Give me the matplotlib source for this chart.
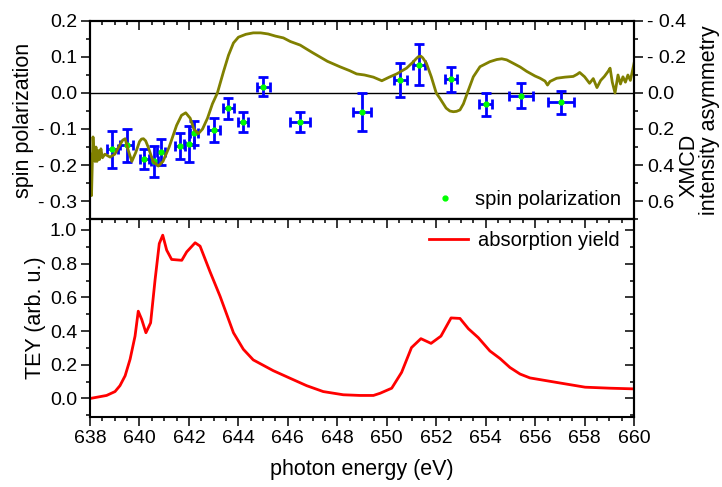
import matplotlib
matplotlib.use('Agg')
import matplotlib.pyplot as plt
from matplotlib.ticker import MultipleLocator, FuncFormatter

plt.rcParams['font.family'] = ['Liberation Sans', 'DejaVu Sans']

# spin polarization points (photon energy, value, errors)
sp_e = [638.90, 639.48, 640.20, 640.60, 640.86, 641.64, 642.00, 642.21, 643.01, 643.59,
        644.17, 645.01, 646.49, 649.00, 650.54, 651.30, 652.60, 654.00, 655.43, 657.03]
sp_val = [-0.156, -0.145, -0.184, -0.190, -0.164, -0.147, -0.142, -0.111, -0.103, -0.043,
          -0.081, 0.018, -0.080, -0.052, 0.036, 0.079, 0.038, -0.031, -0.007, -0.026]
sp_yerr = [0.051, 0.046, 0.028, 0.044, 0.036, 0.035, 0.051, 0.033, 0.034, 0.028,
           0.028, 0.027, 0.027, 0.053, 0.047, 0.057, 0.034, 0.032, 0.035, 0.031]
sp_xerr = [0.22, 0.25, 0.18, 0.15, 0.17, 0.20, 0.20, 0.15, 0.24, 0.22,
           0.20, 0.26, 0.42, 0.38, 0.26, 0.23, 0.26, 0.27, 0.48, 0.53]

# XMCD intensity asymmetry (right axis)
xmcd_e = [638.00, 638.03, 638.06, 638.09, 638.12, 638.16, 638.20, 638.24, 638.28, 638.33,
          638.38, 638.44, 638.50, 638.60, 638.81, 639.00, 639.20, 639.32, 639.42, 639.55,
          639.69, 639.85, 640.00, 640.08, 640.16, 640.25, 640.35, 640.55, 640.76, 640.95,
          641.20, 641.50, 641.70, 641.87, 642.05, 642.20, 642.38, 642.55, 642.75, 642.95,
          643.15, 643.40, 643.60, 643.80, 644.00, 644.30, 644.60, 644.90, 645.20, 645.50,
          645.82, 646.10, 646.50, 646.76, 647.00, 647.30, 647.60, 648.10, 648.50, 648.78,
          649.10, 649.46, 649.80, 650.10, 650.40, 650.80, 651.05, 651.20, 651.28, 651.38,
          651.45, 651.60, 651.80, 652.00, 652.15, 652.40, 652.55, 652.69, 652.82, 652.96,
          653.10, 653.30, 653.50, 653.77, 654.17, 654.45, 654.65, 654.85, 655.10, 655.40,
          655.66, 656.00, 656.20, 656.40, 656.50, 656.60, 656.87, 657.20, 657.54, 657.70,
          657.80, 658.00, 658.20, 658.35, 658.50, 658.65, 658.80, 658.95, 659.03, 659.12,
          659.23, 659.35, 659.45, 659.55, 659.65, 659.75, 659.85, 659.93, 660.00]
xmcd = [0.34, 0.46, 0.57, 0.40, 0.244, 0.34, 0.38, 0.30, 0.38, 0.32,
        0.37, 0.31, 0.36, 0.34, 0.356, 0.34, 0.29, 0.262, 0.254, 0.32,
        0.38, 0.33, 0.27, 0.256, 0.254, 0.266, 0.30, 0.38, 0.406, 0.38,
        0.30, 0.18, 0.124, 0.11, 0.14, 0.20, 0.226, 0.20, 0.14, 0.06,
        0.0, -0.12, -0.21, -0.278, -0.31, -0.326, -0.334, -0.334, -0.328, -0.316,
        -0.306, -0.286, -0.266, -0.244, -0.224, -0.20, -0.176, -0.146, -0.124, -0.106,
        -0.10, -0.088, -0.068, -0.088, -0.106, -0.138, -0.17, -0.192, -0.202, -0.204,
        -0.196, -0.166, -0.09, 0.0, 0.03, 0.084, 0.100, 0.104, 0.102, 0.094,
        0.06, -0.016, -0.09, -0.146, -0.174, -0.186, -0.19, -0.184, -0.166, -0.144,
        -0.12, -0.094, -0.082, -0.066, -0.044, -0.064, -0.082, -0.088, -0.092, -0.104,
        -0.114, -0.09, -0.054, -0.08, -0.03, -0.07, -0.092, -0.12, -0.138, -0.06,
        0.0, -0.1, -0.05, -0.09, -0.06, -0.1, -0.07, -0.12, -0.166]

# absorption yield (TEY)
tey_e = [638.00, 638.67, 639.01, 639.21, 639.42, 639.62, 639.82, 639.95, 640.09, 640.26,
         640.45, 640.63, 640.80, 640.94, 641.10, 641.30, 641.71, 641.91, 642.25, 642.45,
         642.85, 643.26, 643.80, 644.20, 644.60, 645.41, 646.09, 646.76, 647.43, 648.24,
         648.92, 649.46, 649.73, 650.20, 650.60, 651.00, 651.38, 651.79, 652.19, 652.60,
         652.96, 653.30, 653.70, 654.17, 654.58, 654.98, 655.39, 655.79, 657.00, 658.02,
         659.03, 660.00]
tey = [0.0, 0.018, 0.041, 0.076, 0.135, 0.233, 0.37, 0.518, 0.469, 0.39,
       0.449, 0.704, 0.919, 0.969, 0.88, 0.825, 0.82, 0.87, 0.924, 0.904,
       0.753, 0.606, 0.39, 0.292, 0.229, 0.165, 0.12, 0.076, 0.041, 0.022,
       0.018, 0.018, 0.031, 0.061, 0.155, 0.302, 0.355, 0.327, 0.37, 0.478,
       0.475, 0.414, 0.361, 0.282, 0.237, 0.184, 0.145, 0.122, 0.092, 0.067,
       0.061, 0.057]


def fmt(v, pos):
    s = '%.1f' % v
    if s == '-0.0':
        s = '0.0'
    return s.replace('-', '- ')


fig = plt.figure(figsize=(7.22, 4.87), dpi=100)
ax1 = fig.add_axes([0.1247, 0.5503, 0.7535, 0.4066])
ax2 = fig.add_axes([0.1247, 0.1437, 0.7535, 0.4066])

# top panel
ax1.axhline(0, color='black', lw=1, zorder=1)
ax1.errorbar(sp_e, sp_val, xerr=sp_xerr, yerr=sp_yerr, fmt='none', ecolor='#0000ff',
             elinewidth=2, capsize=3.5, capthick=2, zorder=2)
ax1.plot(sp_e, sp_val, 'o', color='#00ff00', ms=3.5, ls='none', label='spin polarization', zorder=3)
ax1.set_xlim(638, 660)
ax1.set_ylim(-0.35, 0.2)
ax1.yaxis.set_major_locator(MultipleLocator(0.1))
ax1.yaxis.set_minor_locator(MultipleLocator(0.05))
ax1.yaxis.set_major_formatter(FuncFormatter(fmt))
ax1.xaxis.set_major_locator(MultipleLocator(2))
ax1.xaxis.set_minor_locator(MultipleLocator(0.5))
ax1.tick_params(axis='x', which='both', bottom=False, top=True, labelbottom=False, direction='in')
ax1.tick_params(axis='y', which='both', left=True, right=False, direction='out')
ax1.set_ylabel('spin polarization', fontsize=15.5, labelpad=3)
ax1.legend(loc='lower right', frameon=False, fontsize=14.5, handletextpad=0.5,
           borderaxespad=0.1, bbox_to_anchor=(0.995, 0.0))

ax1r = ax1.twinx()
ax1r.plot(xmcd_e, xmcd, color='#808000', lw=2)
ax1r.set_ylim(0.7, -0.4)
ax1r.yaxis.set_major_locator(MultipleLocator(0.2))
ax1r.yaxis.set_minor_locator(MultipleLocator(0.1))
ax1r.yaxis.set_major_formatter(FuncFormatter(fmt))
ax1r.tick_params(axis='y', which='both', direction='out')

# bottom panel
ax2.plot(tey_e, tey, color='#ff0000', lw=2, label='absorption yield')
ax2.set_xlim(638, 660)
ax2.set_ylim(-0.11, 1.065)
ax2.xaxis.set_major_locator(MultipleLocator(2))
ax2.xaxis.set_minor_locator(MultipleLocator(0.5))
ax2.yaxis.set_major_locator(MultipleLocator(0.2))
ax2.yaxis.set_minor_locator(MultipleLocator(0.1))
ax2.yaxis.set_major_formatter(FuncFormatter(fmt))
ax2.tick_params(axis='x', which='both', bottom=True, top=False, direction='out')
ax2.tick_params(axis='y', which='both', left=True, right=False, direction='out')
ax2.set_xlabel('photon energy (eV)', fontsize=15.5, labelpad=9)
ax2.set_ylabel('TEY (arb. u.)', fontsize=15.5, labelpad=3)
ax2.legend(loc='upper right', frameon=False, fontsize=14.5, handlelength=1.9,
           handletextpad=0.5, borderaxespad=0.2, bbox_to_anchor=(0.995, 1.0))

# mirrored inward ticks
ax2t = ax2.secondary_xaxis('top')
ax2t.xaxis.set_major_locator(MultipleLocator(2))
ax2t.xaxis.set_minor_locator(MultipleLocator(0.5))
ax2t.tick_params(axis='x', which='both', direction='in', labeltop=False)
ax2r = ax2.secondary_yaxis('right')
ax2r.yaxis.set_major_locator(MultipleLocator(0.2))
ax2r.yaxis.set_minor_locator(MultipleLocator(0.1))
ax2r.tick_params(axis='y', which='both', direction='in', labelright=False)

for a in [ax1, ax1r, ax2, ax2t, ax2r]:
    a.tick_params(which='major', length=6.3, width=1.1, labelsize=14, pad=3)
    a.tick_params(which='minor', length=3.2, width=1.1)
for a in [ax1, ax1r, ax2, ax2t, ax2r]:
    for sp in a.spines.values():
        sp.set_linewidth(1.5)

fig.text(689 / 722, 1 - 165 / 487, 'XMCD', rotation=90, fontsize=15.5, ha='center', va='center')
fig.text(709 / 722, 1 - 120 / 487, 'intensity asymmetry', rotation=90, fontsize=15.5,
         ha='center', va='center')

fig.savefig('out.png', dpi=100)
